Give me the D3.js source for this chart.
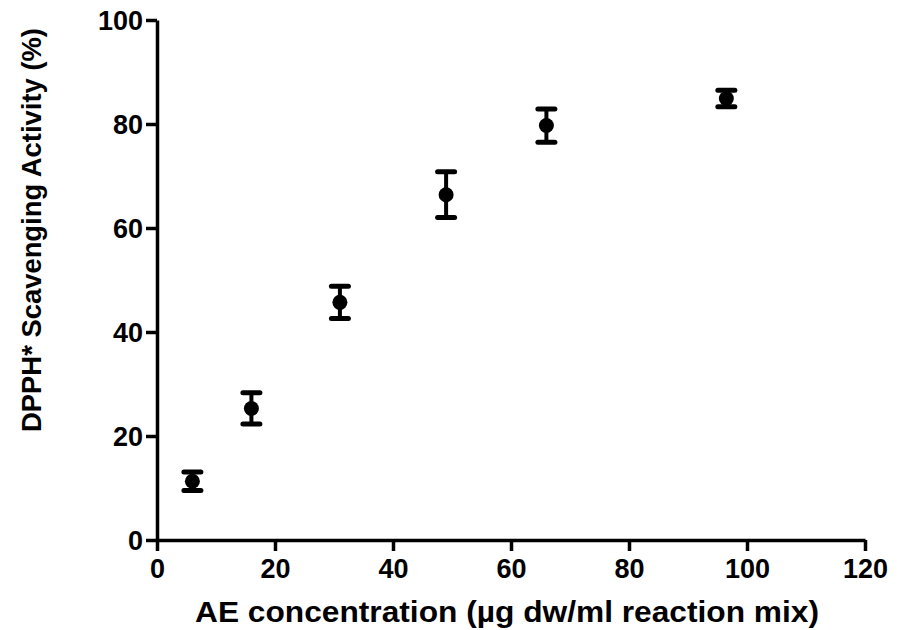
<!DOCTYPE html>
<html>
<head>
<meta charset="utf-8">
<script src="https://cdn.jsdelivr.net/npm/d3@7"></script>
<style>
  body { margin: 0; background: #fff; }
  text { font-family: "Liberation Sans", Arial, sans-serif; font-weight: bold; }
</style>
</head>
<body>
<div id="chart"></div>
<script>
//Data
var concentration = [6, 16, 31, 49, 66, 96.5];
var activity = [11.3, 25.3, 45.7, 66.4, 79.7, 84.9];
var sem = [1.8, 3.0, 3.1, 4.4, 3.2, 1.6];
var xTicks = [0, 20, 40, 60, 80, 100, 120];
var yTicks = [0, 20, 40, 60, 80, 100];

var width = 897,
  height = 630;
var margin = { top: 20, right: 32, bottom: 90, left: 157 };

var svg = d3
  .select("#chart")
  .append("svg")
  .attr("width", width)
  .attr("height", height);

var x = d3.scaleLinear().domain([0, 120]).range([margin.left, width - margin.right]);
var y = d3.scaleLinear().domain([0, 100]).range([height - margin.bottom, margin.top]);

//Axes
var xAxis = svg
  .append("g")
  .attr("transform", "translate(0," + y(0) + ")")
  .call(d3.axisBottom(x).tickValues(xTicks).tickSize(11).tickPadding(8).tickSizeOuter(0));

var yAxis = svg
  .append("g")
  .attr("transform", "translate(" + x(0) + ",0)")
  .call(d3.axisLeft(y).tickValues(yTicks).tickSize(11).tickPadding(3).tickSizeOuter(0));

[xAxis, yAxis].forEach(function (a) {
  a.select(".domain").attr("stroke", "#000").attr("stroke-width", 3.5);
  a.selectAll(".tick line").attr("stroke", "#000").attr("stroke-width", 3.5);
  a.selectAll(".tick text").attr("fill", "#000").style("font-size", "27px");
});
yAxis.selectAll(".tick text").attr("dy", "0.36em");

//Axis titles
svg
  .append("text")
  .attr("x", 507)
  .attr("y", 622)
  .attr("text-anchor", "middle")
  .attr("textLength", 624)
  .attr("lengthAdjust", "spacingAndGlyphs")
  .style("font-size", "29px")
  .text("AE concentration (µg dw/ml reaction mix)");

svg
  .append("text")
  .attr("transform", "translate(41,230) rotate(-90)")
  .attr("text-anchor", "middle")
  .attr("textLength", 404)
  .attr("lengthAdjust", "spacingAndGlyphs")
  .style("font-size", "28px")
  .text("DPPH* Scavenging Activity (%)");

//Error bars and points
var pts = svg
  .append("g")
  .selectAll("g")
  .data(concentration)
  .enter()
  .append("g");

pts
  .append("line")
  .attr("x1", function (d) { return x(d); })
  .attr("x2", function (d) { return x(d); })
  .attr("y1", function (d, i) { return y(activity[i] + sem[i]); })
  .attr("y2", function (d, i) { return y(activity[i] - sem[i]); })
  .attr("stroke", "#000")
  .attr("stroke-width", 4);

[1, -1].forEach(function (s) {
  pts
    .append("line")
    .attr("x1", function (d) { return x(d) - 8.5; })
    .attr("x2", function (d) { return x(d) + 8.5; })
    .attr("y1", function (d, i) { return y(activity[i] + s * sem[i]); })
    .attr("y2", function (d, i) { return y(activity[i] + s * sem[i]); })
    .attr("stroke", "#000")
    .attr("stroke-width", 5)
    .attr("stroke-linecap", "round");
});

pts
  .append("circle")
  .attr("cx", function (d) { return x(d); })
  .attr("cy", function (d, i) { return y(activity[i]); })
  .attr("r", 7.5)
  .attr("fill", "#000");
</script>
</body>
</html>
